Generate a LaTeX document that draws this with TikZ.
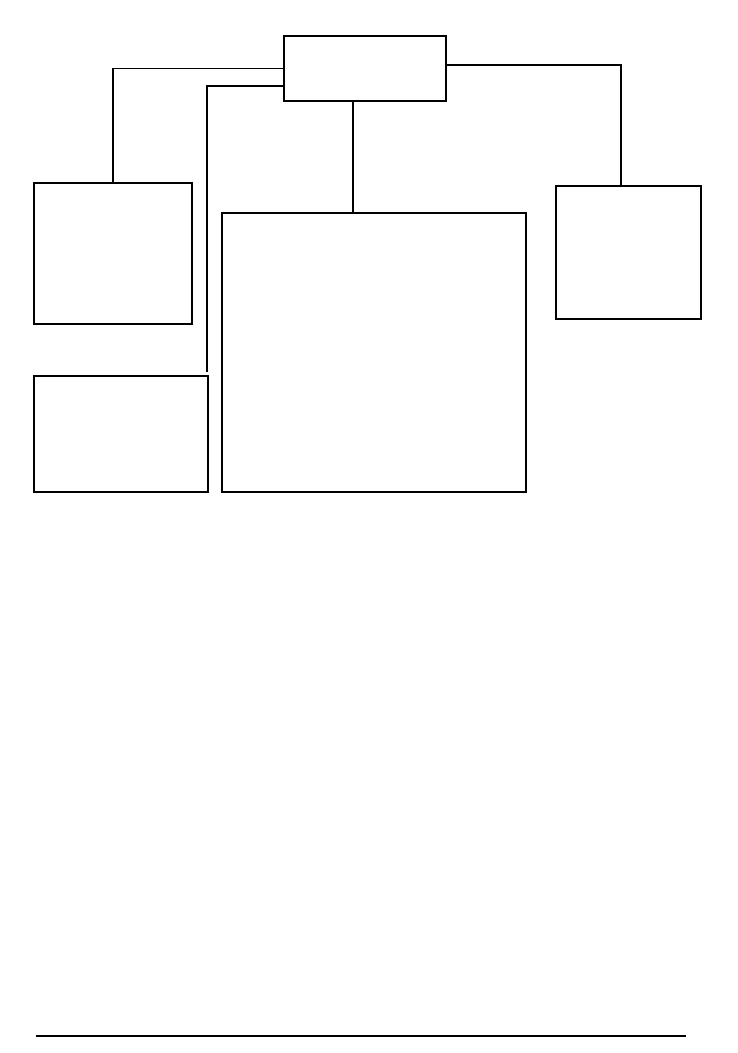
\documentclass[tikz,border=0pt]{standalone}
\usepackage{tikz}
\usetikzlibrary{positioning}
\tikzset{basic/.style={draw,line width=1.1pt,inner sep=0pt,outer sep=0pt}}
\tikzset{head/.style={basic,minimum width=162pt,minimum height=65pt}}
\tikzset{link/.style={line width=1.1pt}}

\begin{document}
\begin{tikzpicture}[x=1pt,y=-1pt]
        \useasboundingbox (0,0) rectangle (738,1053);
        \node[head] (top) at (365,68.5) {};
        \node[basic,minimum width=158pt,minimum height=141pt] (left) at (113,253.5) {};
        \node[basic,minimum width=174pt,minimum height=116pt] (low) at (121,434) {};
        \node[basic,minimum width=304pt,minimum height=279pt] (center) at (374,352.5) {};
        \node[basic,minimum width=145pt,minimum height=133pt] (right) at (628.5,252.5) {};
        \coordinate (bend) at (207,372);
            \path[draw,link] (top.west) -| (left.north);
            \path[draw,link] ([yshift=-17.5pt]top.west) -| (bend);
            \path[draw,link] ([xshift=-12pt]top.south) -- ([xshift=-12pt]top.south |- center.north);
            \path[draw,link] ([yshift=3.5pt]top.east) -| ([xshift=-7.5pt]right.north);
        % rule at the foot of the page
        \coordinate (rulel) at (36,1036);
        \coordinate (ruler) at (686,1036);
        \draw[line width=1.6pt] (rulel) -- (ruler);
    \end{tikzpicture}
\end{document}
